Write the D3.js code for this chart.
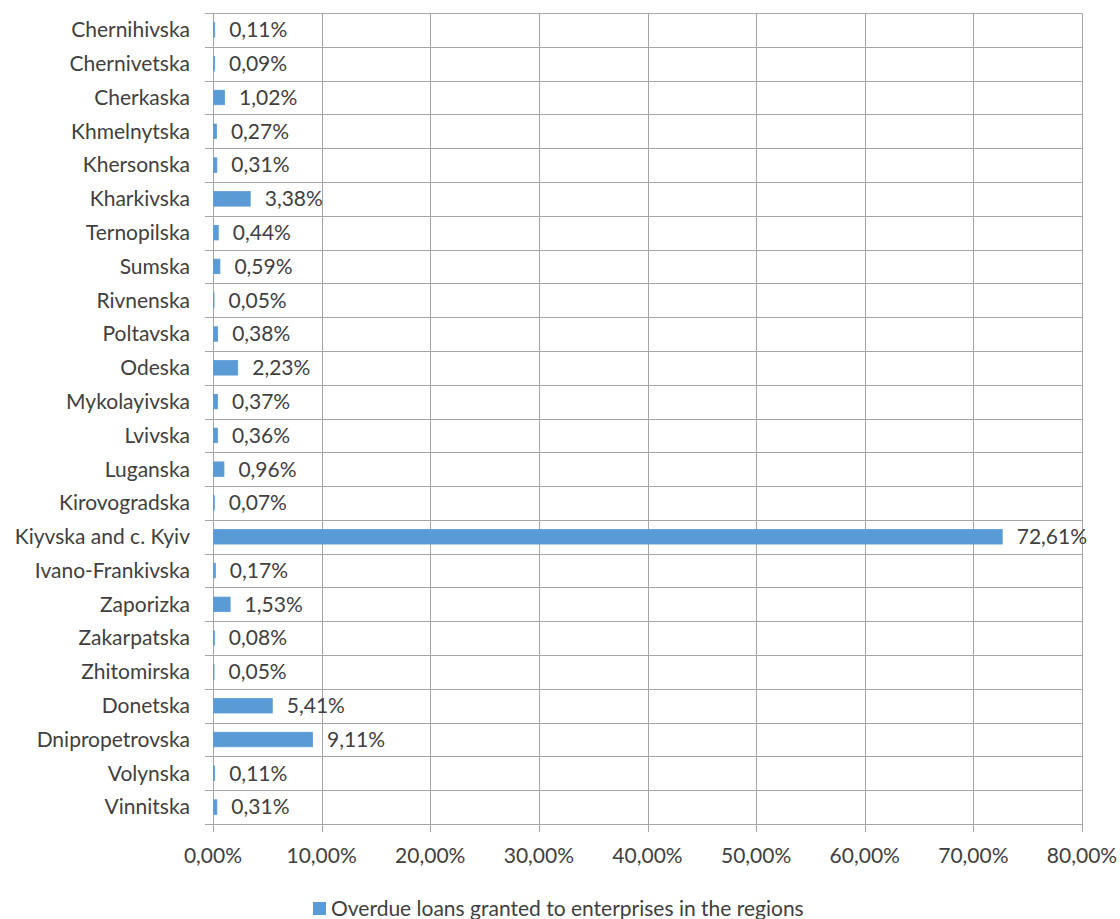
<!DOCTYPE html>
<html>
<head>
<meta charset="utf-8">
<script src="https://cdn.jsdelivr.net/npm/d3@7"></script>
<style>
  html, body { margin: 0; padding: 0; background: #fff; }
  svg { display: block; font-family: Lato, "Open Sans", sans-serif; }
</style>
</head>
<body>
<svg id="chart" width="1120" height="919"></svg>
<script>
// Regions, top to bottom
const regions = [
  "Chernihivska", "Chernivetska", "Cherkaska", "Khmelnytska", "Khersonska",
  "Kharkivska", "Ternopilska", "Sumska", "Rivnenska", "Poltavska", "Odeska",
  "Mykolayivska", "Lvivska", "Luganska", "Kirovogradska", "Kiyvska and c. Kyiv",
  "Ivano-Frankivska", "Zaporizka", "Zakarpatska", "Zhitomirska", "Donetska",
  "Dnipropetrovska", "Volynska", "Vinnitska"
];
// Share of overdue loans, %
const shares = [
  0.11, 0.09, 1.02, 0.27, 0.31,
  3.38, 0.44, 0.59, 0.05, 0.38, 2.23,
  0.37, 0.36, 0.96, 0.07, 72.61,
  0.17, 1.53, 0.08, 0.05, 5.41,
  9.11, 0.11, 0.31
];
const xTicks = [0, 10, 20, 30, 40, 50, 60, 70, 80];
const seriesName = "Overdue loans granted to enterprises in the regions";

const data = regions.map((r, i) => ({ region: r, value: shares[i] }));
const fmt = v => v.toFixed(2).replace(".", ",") + "%";

const svg = d3.select("#chart");
const plotL = 213, plotR = 1082, plotT = 13, plotB = 824;
const barColor = "#5b9bd5";
const gridColor = "#a6a6a6";
const textColor = "#404040";
const fs = 21;

const x = d3.scaleLinear().domain([0, 80]).range([plotL, plotR]);
const y = d3.scaleBand().domain(regions).range([plotT, plotB]).paddingInner(0).paddingOuter(0);
const barH = y.bandwidth() * 0.43;

// Vertical gridlines
svg.append("g").selectAll("line").data(xTicks).join("line")
  .attr("x1", d => Math.round(x(d)) + 0.5).attr("x2", d => Math.round(x(d)) + 0.5)
  .attr("y1", plotT).attr("y2", plotB + 8)
  .attr("stroke", gridColor).attr("stroke-width", 1);

// Horizontal category separators
const seps = d3.range(regions.length + 1).map(i => plotT + i * y.step());
svg.append("g").selectAll("line").data(seps).join("line")
  .attr("x1", plotL - 8).attr("x2", plotR)
  .attr("y1", d => Math.round(d) + 0.5).attr("y2", d => Math.round(d) + 0.5)
  .attr("stroke", gridColor).attr("stroke-width", 1);

// Bars
svg.append("g").selectAll("rect").data(data).join("rect")
  .attr("x", x(0) + 0.5)
  .attr("y", d => y(d.region) + (y.bandwidth() - barH) / 2)
  .attr("width", d => Math.max(x(d.value) - x(0), 0))
  .attr("height", barH)
  .attr("fill", barColor)
  .attr("stroke", barColor)
  .attr("stroke-width", 0.8);

// Value labels
svg.append("g").selectAll("text").data(data).join("text")
  .attr("x", d => x(d.value) + 15)
  .attr("y", d => y(d.region) + y.bandwidth() / 2)
  .attr("dy", "0.35em")
  .attr("font-size", fs)
  .attr("fill", textColor)
  .text(d => fmt(d.value));

// Category labels
svg.append("g").selectAll("text").data(regions).join("text")
  .attr("x", plotL - 23)
  .attr("y", d => y(d) + y.bandwidth() / 2)
  .attr("dy", "0.35em")
  .attr("text-anchor", "end")
  .attr("font-size", fs)
  .attr("fill", textColor)
  .text(d => d);

// X tick labels
svg.append("g").selectAll("text").data(xTicks).join("text")
  .attr("x", d => x(d))
  .attr("y", 863)
  .attr("text-anchor", "middle")
  .attr("font-size", fs)
  .attr("fill", textColor)
  .text(d => d.toFixed(2).replace(".", ",") + "%");

// Legend
const lg = svg.append("g").attr("transform", "translate(313,902)");
lg.append("rect").attr("x", 0).attr("y", 0).attr("width", 13).attr("height", 13).attr("fill", barColor);
lg.append("text").attr("x", 18).attr("y", 14)
  .attr("font-size", fs).attr("fill", textColor).text(seriesName);
</script>
</body>
</html>
